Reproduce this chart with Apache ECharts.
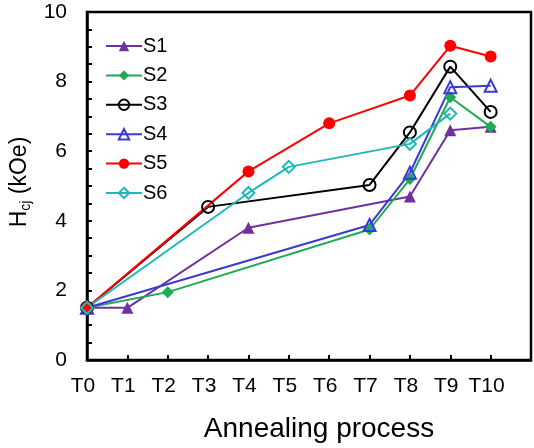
<!DOCTYPE html>
<html><head><meta charset="utf-8">
<script src="https://cdn.jsdelivr.net/npm/echarts@6/dist/echarts.min.js"></script>
<style>html,body{margin:0;padding:0;background:#fff}#c{width:534px;height:448px}</style>
</head><body><div id="c"></div>
<script>
var categories = ['T0','T1','T2','T3','T4','T5','T6','T7','T8','T9','T10',''];
var yTicks = [0,2,4,6,8,10];
var S1 = [1.5, 1.5, null, null, 3.8, null, null, null, 4.7, 6.6, 6.7];
var S2 = [1.5, null, 1.95, null, null, null, null, 3.75, 5.2, 7.55, 6.7];
var S3 = [1.5, null, null, 4.4, null, null, null, 5.03, 6.54, 8.43, 7.13];
var S4 = [1.5, null, null, null, null, null, null, 3.88, 5.38, 7.84, 7.88];
var S5 = [1.5, null, null, null, 5.42, null, 6.8, null, 7.6, 9.03, 8.72];
var S6 = [1.5, null, null, null, 4.8, 5.55, null, null, 6.21, 7.08, null];

var font = 'Liberation Sans, Arial, sans-serif';
function mk(name, data, color, symbol, filled) {
  return {
    name: name, type: 'line', data: data, connectNulls: true,
    symbol: symbol, symbolSize: 12,
    lineStyle: {color: color, width: 2},
    itemStyle: filled ? {color: color} : {color: 'rgba(255,255,255,0)', borderColor: color, borderWidth: 2},
    emphasis: {disabled: true}
  };
}
var chart = echarts.init(document.getElementById('c'));
chart.setOption({
  animation: false,
  grid: {left: 87, top: 12, width: 450, height: 349, show: true, borderColor: '#000', borderWidth: 2.5, containLabel: false},
  legend: {
    orient: 'vertical', left: 100, top: 31, itemGap: 9.4, itemWidth: 36, itemHeight: 13,
    textStyle: {fontFamily: font, fontSize: 20, color: '#000', padding: [0,0,0,-4]},
    data: ['S1','S2','S3','S4','S5','S6']
  },
  xAxis: {
    type: 'category', data: categories, boundaryGap: false,
    name: 'Annealing process', nameLocation: 'middle', nameGap: 55,
    nameTextStyle: {fontFamily: font, fontSize: 28, color: '#000', padding: [0,0,0,20]},
    axisLine: {lineStyle: {color: '#000', width: 2.5}},
    axisTick: {inside: true, length: 5, interval: 0, lineStyle: {color: '#000', width: 2}, alignWithLabel: true},
    axisLabel: {fontFamily: font, fontSize: 21, color: '#000', margin: 16, interval: 0, padding: [0,8,0,0]}
  },
  yAxis: {
    type: 'value', min: 0, max: 10, interval: 0.5,
    name: 'H{s|cj} (kOe)', nameLocation: 'middle', nameGap: 51, nameRotate: 90,
    nameTextStyle: {fontFamily: font, fontSize: 23, color: '#000', padding: [0,0,0,8],
      rich: {s: {fontFamily: font, fontSize: 14, color: '#000', verticalAlign: 'bottom', padding: [12,0,0,0]}}},
    axisLine: {show: true, lineStyle: {color: '#000', width: 2.5}},
    axisTick: {show: true, inside: true, length: 5, lineStyle: {color: '#000', width: 2}},
    splitLine: {show: false},
    axisLabel: {fontFamily: font, fontSize: 21, color: '#000', margin: 20,
      formatter: function (v) { return yTicks.indexOf(v) >= 0 ? String(v) : ''; }}
  },
  series: [
    mk('S1', S1, '#7030A0', 'triangle', true),
    mk('S2', S2, '#1FAA55', 'diamond', true),
    mk('S3', S3, '#000000', 'circle', false),
    mk('S4', S4, '#3A3AD0', 'triangle', false),
    mk('S5', S5, '#FF0000', 'circle', true),
    mk('S6', S6, '#1FB8B8', 'diamond', false)
  ]
});
</script></body></html>
